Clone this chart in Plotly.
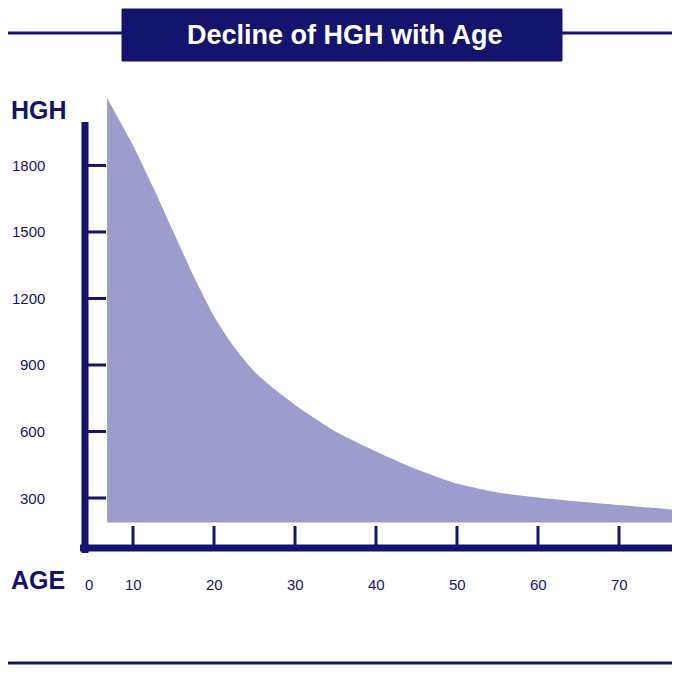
import plotly.graph_objects as go

ages = [6.8, 10, 12.5, 15, 17.5, 20, 22.5, 25, 27.5, 30, 35, 40, 45, 50, 55, 60, 65, 70, 77.5]
hgh = [2104, 1890, 1700, 1500, 1300, 1120, 980, 870, 790, 720, 600, 510, 430, 365, 325, 302, 284, 268, 245]
base_level = 190
xtick_vals = [10, 20, 30, 40, 50, 60, 70]
xtick_text = ["10", "20", "30", "40", "50", "60", "70"]
ytick_vals = [300, 600, 900, 1200, 1500, 1800]
ytick_text = ["300", "600", "900", "1200", "1500", "1800"]

NAVY = "#14146e"
OFF = 8
W = H = 680 - 2 * OFF
def px(x): return (x - OFF) / W
def py(y): return 1 - (y - OFF) / H

fig = go.Figure()
fig.add_trace(go.Scatter(x=ages, y=[base_level]*len(ages), mode="lines", line=dict(width=0), hoverinfo="skip"))
fig.add_trace(go.Scatter(x=ages, y=hgh, mode="lines", line=dict(width=0, shape="spline", smoothing=0.6),
                         fill="tonexty", fillcolor="#9d9dcd", hoverinfo="skip"))

xlo = 10 - 48 / 8.1
xhi = 10 + (680 - OFF - 133) / 8.1
ylo = 300 - 52 / 0.2217
yhi = 300 + 424 / 0.2217
fig.update_xaxes(range=[xlo, xhi], domain=[px(85), 1], visible=False)
fig.update_yaxes(range=[ylo, yhi], domain=[py(550), py(74)], visible=False)

shapes = []
shapes.append(dict(type="line", xref="paper", yref="paper", x0=px(85), x1=px(85), y0=py(553), y1=py(122), line=dict(color=NAVY, width=7)))
shapes.append(dict(type="line", xref="paper", yref="paper", x0=px(80), x1=1.02, y0=py(548), y1=py(548), line=dict(color=NAVY, width=7)))
for v in xtick_vals:
    shapes.append(dict(type="line", xref="x", yref="paper", x0=v, x1=v, y0=py(548), y1=py(526), line=dict(color=NAVY, width=3)))
for v in ytick_vals:
    shapes.append(dict(type="line", xref="paper", yref="y", x0=px(85), x1=px(106), y0=v, y1=v, line=dict(color=NAVY, width=3)))
shapes.append(dict(type="line", xref="paper", yref="paper", x0=-0.02, x1=1.02, y0=py(33), y1=py(33), line=dict(color=NAVY, width=3)))
shapes.append(dict(type="rect", xref="paper", yref="paper", x0=px(122), x1=px(562), y0=py(61), y1=py(9),
                   fillcolor=NAVY, line=dict(color=NAVY, width=1)))
shapes.append(dict(type="line", xref="paper", yref="paper", x0=-0.02, x1=1.02, y0=py(663), y1=py(663), line=dict(color=NAVY, width=3)))

ann = []
ann.append(dict(text="<b>Decline of HGH with Age</b>", xref="paper", yref="paper", x=px(345), y=py(35),
                xanchor="center", yanchor="middle",
                showarrow=False, font=dict(color="white", size=27, family="Liberation Sans")))
ann.append(dict(text="<b>HGH</b>", xref="paper", yref="paper", x=px(9), y=py(110), xanchor="left", yanchor="middle",
                showarrow=False, font=dict(color=NAVY, size=25, family="Liberation Sans")))
ann.append(dict(text="<b>AGE</b>", xref="paper", yref="paper", x=px(9), y=py(580), xanchor="left", yanchor="middle",
                showarrow=False, font=dict(color=NAVY, size=25, family="Liberation Sans")))
for v, t in zip(ytick_vals, ytick_text):
    ann.append(dict(text=t, xref="paper", yref="y", x=px(47), y=v, xanchor="right", yanchor="middle", showarrow=False,
                    font=dict(color=NAVY, size=15, family="Liberation Sans")))
ann.append(dict(text="0", xref="paper", yref="paper", x=px(83), y=py(584), yanchor="middle", showarrow=False,
                font=dict(color=NAVY, size=15, family="Liberation Sans")))
for v, t in zip(xtick_vals, xtick_text):
    ann.append(dict(text=t, xref="x", yref="paper", x=v, y=py(584), yanchor="middle", showarrow=False,
                    font=dict(color=NAVY, size=15, family="Liberation Sans")))

fig.update_layout(width=W, height=H, margin=dict(l=0, r=0, t=0, b=0), showlegend=False,
                  plot_bgcolor="white", paper_bgcolor="white", shapes=shapes, annotations=ann)
fig.write_html("out.html")
